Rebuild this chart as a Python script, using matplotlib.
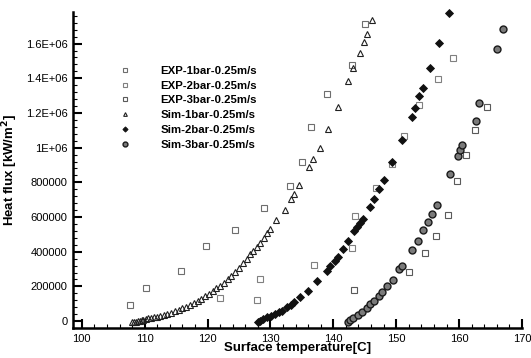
import numpy as np
import matplotlib
matplotlib.use('Agg')
import matplotlib.pyplot as plt
from matplotlib.ticker import MultipleLocator

plt.rcParams['font.family'] = ['Liberation Sans', 'DejaVu Sans']

# experimental data (surface temperature [C], heat flux)
exp1_T = [107.7, 110.2, 115.8, 119.7, 124.3, 129.0, 133.1, 135.0, 136.5, 139.0, 143.0, 145.1]
exp1_q = [92000, 189000, 291000, 430000, 526000, 651000, 780000, 917000, 1120000, 1312000, 1476000, 1711000]

exp2_T = [121.9, 127.8, 128.3, 137.0, 143.0, 143.4, 146.8, 149.3, 151.3, 153.7, 156.7, 159.0]
exp2_q = [131000, 124000, 245000, 325000, 420000, 605000, 769000, 908000, 1068000, 1245000, 1393000, 1514000]

exp3_T = [143.3, 152.1, 154.6, 156.3, 158.3, 159.7, 161.1, 162.6, 164.4]
exp3_q = [179000, 285000, 393000, 493000, 614000, 805000, 955000, 1100000, 1235000]

# simulation data
sim1_T = [108.0, 108.3, 108.6, 108.9, 109.2, 109.5, 109.8, 110.2, 110.6, 111.0,
          111.5, 112.0, 112.5, 113.0, 113.6, 114.2, 114.8, 115.4, 116.0, 116.6,
          117.2, 117.8, 118.4, 119.0, 119.6, 120.2, 120.8, 121.4, 122.0, 122.6,
          123.2, 123.8, 124.4, 125.0, 125.6, 126.2, 126.8, 127.3, 127.8, 128.4,
          129.0, 129.5, 130.0, 130.9, 132.3, 133.2, 133.8, 134.5, 136.1, 136.8,
          137.8, 139.2, 140.8, 142.4, 143.2, 144.2, 144.8, 145.3, 146.1]
sim1_q = [-8000, -5000, -3000, 0, 2000, 5000, 9000, 12000, 15000, 18000,
          21000, 26000, 31000, 36000, 42000, 49000, 57000, 65000, 74000, 83000,
          94000, 105000, 118000, 130000, 144000, 158000, 172000, 188000, 204000, 222000,
          242000, 262000, 284000, 308000, 334000, 358000, 385000, 404000, 426000, 452000,
          480000, 505000, 532000, 580000, 643000, 701000, 734000, 782000, 888000, 936000,
          998000, 1110000, 1235000, 1383000, 1457000, 1543000, 1611000, 1653000, 1736000]

sim2_T = [128.0, 128.4, 128.8, 129.4, 130.1, 130.8, 131.3, 131.8, 132.6, 133.2,
          133.7, 134.7, 135.9, 137.4, 139.0, 139.5, 140.2, 140.7, 141.6, 142.4,
          143.3, 143.7, 144.2, 144.7, 145.8, 146.5, 147.2, 148.0, 149.3, 150.9,
          152.5, 153.0, 153.7, 154.2, 155.4, 156.8, 158.4]
sim2_q = [-8000, 2000, 10000, 21000, 30000, 40000, 50000, 60000, 79000, 92000,
          108000, 137000, 175000, 233000, 291000, 320000, 345000, 368000, 416000, 464000,
          522000, 541000, 565000, 590000, 657000, 705000, 763000, 811000, 917000, 1042000,
          1177000, 1229000, 1299000, 1345000, 1461000, 1605000, 1775000]

sim3_T = [142.4, 142.7, 143.2, 144.0, 144.6, 145.3, 145.9, 146.4, 147.2, 147.7,
          148.6, 149.5, 150.4, 150.9, 152.5, 153.5, 154.3, 155.0, 155.7, 156.5,
          158.6, 159.8, 160.2, 160.5, 162.7, 163.1, 166.0, 167.0]
sim3_q = [-6000, 8000, 20000, 35000, 55000, 78000, 98000, 117000, 146000, 169000,
          205000, 237000, 300000, 320000, 410000, 460000, 526000, 570000, 618000, 670000,
          850000, 950000, 984000, 1017000, 1154000, 1258000, 1566000, 1684000]

labels = ['EXP-1bar-0.25m/s', 'EXP-2bar-0.25m/s', 'EXP-3bar-0.25m/s',
          'Sim-1bar-0.25m/s', 'Sim-2bar-0.25m/s', 'Sim-3bar-0.25m/s']

y_ticks = [0, 200000, 400000, 600000, 800000, 1000000, 1200000, 1400000, 1600000]
y_tick_labels = ['0', '200000', '400000', '600000', '800000', '1E+06', '1.2E+06', '1.4E+06', '1.6E+06']
x_ticks = [100, 110, 120, 130, 140, 150, 160, 170]

fig = plt.figure(figsize=(5.31, 3.58), dpi=100)
ax = fig.add_axes([73 / 531, 1 - 328 / 358, (522 - 73) / 531, (328 - 12) / 358])

ax.plot(exp1_T, exp1_q, 's', ms=4.5, mfc='none', mec='#6e6e6e', mew=0.8, label=labels[0], clip_on=False)
ax.plot(exp2_T, exp2_q, 's', ms=4.5, mfc='none', mec='#808080', mew=0.8, label=labels[1], clip_on=False)
ax.plot(exp3_T, exp3_q, 's', ms=4.5, mfc='none', mec='#5a5a5a', mew=0.8, label=labels[2], clip_on=False)
ax.plot(sim1_T, sim1_q, '^', ms=3.8, mfc='none', mec='#202020', mew=0.8, label=labels[3], clip_on=False)
ax.plot(sim2_T, sim2_q, 'D', ms=3.8, mfc='#111111', mec='#111111', mew=0.6, label=labels[4], clip_on=False)
ax.plot(sim3_T, sim3_q, 'o', ms=5, mfc='#7a7a7a', mec='#1a1a1a', mew=1.0, label=labels[5], clip_on=False)

ax.set_xlim(98.6, 170)
ax.set_ylim(-40000, 1782000)
ax.set_xticks(x_ticks)
ax.set_yticks(y_ticks)
ax.set_yticklabels(y_tick_labels)
ax.xaxis.set_minor_locator(MultipleLocator(2))
ax.yaxis.set_minor_locator(MultipleLocator(40000))

for side in ['top', 'right']:
    ax.spines[side].set_visible(False)
for side in ['left', 'bottom']:
    ax.spines[side].set_linewidth(1.8)

ax.tick_params(which='major', direction='in', length=6.5, width=1.5, labelsize=8, pad=4)
ax.tick_params(which='minor', direction='in', length=3, width=0.8)
ax.tick_params(top=False, right=False)

ax.set_xlabel('Surface temperature[C]', fontsize=9.5, fontweight='bold')
ax.xaxis.set_label_coords(0.5, -0.045)
ax.set_ylabel('Heat flux [kW/m$^\\mathbf{2}$]', fontsize=9.5, fontweight='bold')
ax.yaxis.set_label_coords(-0.118, 0.5)

leg = ax.legend(loc='upper left', bbox_to_anchor=(0.103, 0.83), frameon=False,
                prop={'size': 8.2, 'weight': 'bold'}, handlelength=1.0,
                handletextpad=2.6, labelspacing=0.42, borderpad=0, borderaxespad=0,
                markerscale=0.7)

fig.savefig('out.png', dpi=100)
